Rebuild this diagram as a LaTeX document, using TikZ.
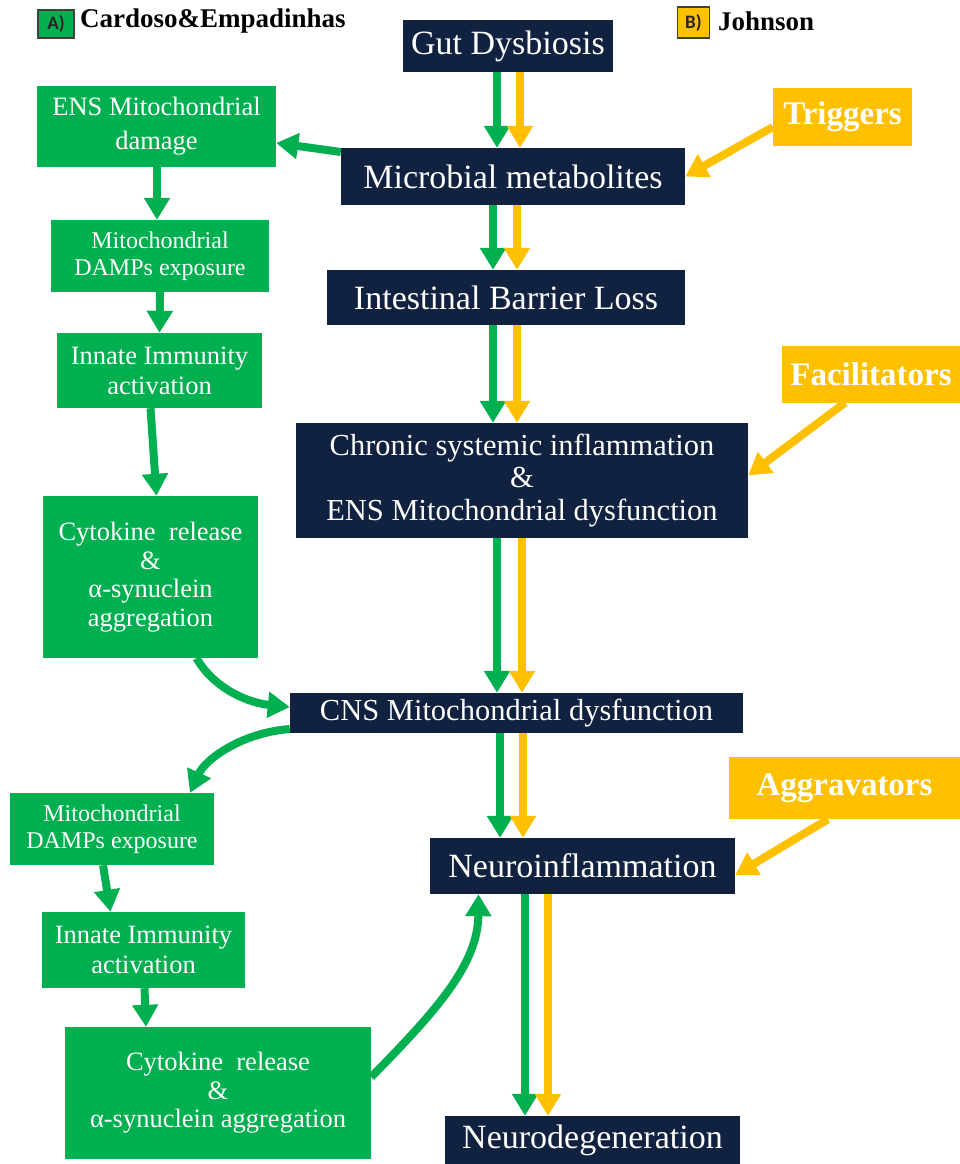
\documentclass[tikz,border=0pt]{standalone}
\usepackage{fontspec}
\setmainfont{Liberation Serif}
\newfontfamily\carlito{Carlito}
\usetikzlibrary{arrows.meta}
\definecolor{navy}{HTML}{10223F}
\definecolor{gbox}{HTML}{00B050}
\definecolor{ybox}{HTML}{FFC000}
\begin{document}
\begin{tikzpicture}[x=1pt,y=-1pt,
 dark/.style={fill=navy,text=white,inner sep=0pt,font=\fontsize{34}{35}\selectfont,align=center},
 gbx/.style={fill=gbox,text=white,inner sep=0pt,font=\fontsize{26}{29}\selectfont,align=center},
 ybx/.style={fill=ybox,text=white,inner sep=0pt,font=\bfseries\fontsize{33}{36}\selectfont},
 garr/.style={draw=gbox,line width=8pt,-{Triangle[width=25pt,length=22pt]}},
 yarr/.style={draw=ybox,line width=8pt,-{Triangle[width=25pt,length=22pt]}},
 legbox/.style={draw=black!75,line width=1.2pt,inner sep=0pt,text=black!85,font=\carlito\bfseries\fontsize{19}{19}\selectfont},
 legtext/.style={anchor=west,inner sep=0pt,font=\bfseries\fontsize{27}{27}\selectfont}]
\useasboundingbox (0,0) rectangle (960,1164);
\fill[white] (0,0) rectangle (960,1164);

% legend
\node[legbox,fill=gbox,minimum width=36pt,minimum height=28pt] (la) at (56,24) {A)};
\node[legtext] (lat) at (80,21.5) {Cardoso\&Empadinhas};
\node[legbox,fill=ybox,minimum width=32pt,minimum height=31pt] (lb) at (693.5,22.5) {B)};
\node[legtext] (lbt) at (718,21.5) {Johnson};

% dark nodes
\node[dark,minimum width=210pt,minimum height=52pt] (gut) at (508,46) {Gut Dysbiosis};
\node[dark,minimum width=344pt,minimum height=57pt] (micro) at (513,176.5) {Microbial metabolites};
\node[dark,minimum width=358pt,minimum height=55pt] (intest) at (506,297.5) {Intestinal Barrier Loss};
\node[dark,minimum width=452pt,minimum height=115pt,font=\fontsize{30.5}{32.5}\selectfont] (chronic) at (522,480.5) {Chronic systemic inflammation\\\&\\ENS Mitochondrial dysfunction};
\node[dark,minimum width=453pt,minimum height=40pt,font=\fontsize{30.5}{32}\selectfont] (cns) at (516.5,713) {CNS Mitochondrial dysfunction};
\node[dark,minimum width=305pt,minimum height=56pt] (neuroinf) at (582.5,866) {Neuroinflammation};
\node[dark,minimum width=295pt,minimum height=48pt] (neurodeg) at (592.5,1140) {Neurodegeneration};

% green nodes
\node[gbx,minimum width=239pt,minimum height=81pt,font=\fontsize{26.5}{34}\selectfont] (ensd) at (156.5,126.5) {ENS Mitochondrial\\damage};
\node[gbx,minimum width=218pt,minimum height=72pt,font=\fontsize{24}{27}\selectfont] (damps1) at (160,256) {Mitochondrial\\DAMPs exposure};
\node[gbx,minimum width=205pt,minimum height=75pt,font=\fontsize{26.5}{30}\selectfont] (innate1) at (159.5,370.5) {Innate Immunity\\activation};
\node[gbx,minimum width=215pt,minimum height=162pt,font=\fontsize{26.5}{28.5}\selectfont] (cyto1) at (150.5,577) {Cytokine\ \ release\\\&\\α-synuclein\\aggregation};
\node[gbx,minimum width=204pt,minimum height=72pt,font=\fontsize{24}{27}\selectfont] (damps2) at (112,829) {Mitochondrial\\DAMPs exposure};
\node[gbx,minimum width=203pt,minimum height=76pt,font=\fontsize{26.5}{30}\selectfont] (innate2) at (143.5,950) {Innate Immunity\\activation};
\node[gbx,minimum width=306pt,minimum height=132pt,font=\fontsize{26.5}{28.5}\selectfont] (cyto2) at (218,1093) {Cytokine\ \ release\\\&\\α-synuclein aggregation};

% yellow nodes
\node[ybx,minimum width=139pt,minimum height=58pt] (trig) at (842.5,117) {Triggers};
\node[ybx,minimum width=178pt,minimum height=57pt] (facil) at (871,374) {Facilitators};
\node[ybx,minimum width=231pt,minimum height=62pt] (aggr) at (844.5,788) {Aggravators};

% column coordinates
\coordinate (g1) at (497,0); \coordinate (y1) at (520,0);
\coordinate (g2) at (493,0); \coordinate (y2) at (517,0);
\coordinate (g3) at (493,0); \coordinate (y3) at (517,0);
\coordinate (g4) at (497,0); \coordinate (y4) at (522,0);
\coordinate (g5) at (500,0); \coordinate (y5) at (523,0);
\coordinate (g6) at (525,0); \coordinate (y6) at (548,0);

% main vertical arrows
\draw[garr] (gut.south -| g1) -- (micro.north -| g1);
\draw[yarr] (gut.south -| y1) -- (micro.north -| y1);
\draw[garr] (micro.south -| g2) -- (intest.north -| g2);
\draw[yarr] (micro.south -| y2) -- (intest.north -| y2);
\draw[garr] (intest.south -| g3) -- (chronic.north -| g3);
\draw[yarr] (intest.south -| y3) -- (chronic.north -| y3);
\draw[garr] (chronic.south -| g4) -- (cns.north -| g4);
\draw[yarr] (chronic.south -| y4) -- (cns.north -| y4);
\draw[garr] (cns.south -| g5) -- (neuroinf.north -| g5);
\draw[yarr] (cns.south -| y5) -- (neuroinf.north -| y5);
\draw[garr] (neuroinf.south -| g6) -- (neurodeg.north -| g6);
\draw[yarr] (neuroinf.south -| y6) -- (neurodeg.north -| y6);

% left green chain
\draw[garr] ([yshift=24.5pt]micro.west) -- ([yshift=-16.5pt]ensd.east);
\draw[garr] ([xshift=0.5pt]ensd.south) -- ([xshift=-3pt]damps1.north);
\draw[garr] (damps1.south) -- (innate1.north);
\draw[garr] ([xshift=-9pt]innate1.south) -- ([xshift=6pt]cyto1.north);
\draw[garr] ([xshift=46pt]cyto1.south) .. controls (215,690) and (250,703) .. ([yshift=6pt]cns.west);
\draw[garr] ([yshift=-16pt]cns.west) .. controls (240,733) and (205,760) .. ([xshift=78pt]damps2.north);
\draw[garr] ([xshift=-9pt]damps2.south) -- ([xshift=-33pt]innate2.north);
\draw[garr] ([xshift=1pt]innate2.south) -- ([xshift=-72pt]cyto2.north);
\draw[garr] ([yshift=16pt]cyto2.east) .. controls (435,1012) and (478,965) .. ([xshift=-104pt]neuroinf.south);

% yellow side arrows
\draw[yarr] ([yshift=-10pt]trig.west) -- (micro.east);
\draw[yarr] ([xshift=-26pt]facil.south) -- ([yshift=5pt]chronic.east);
\draw[yarr] ([xshift=-16.5pt]aggr.south) -- ([yshift=-9pt]neuroinf.east);
\end{tikzpicture}
\end{document}
